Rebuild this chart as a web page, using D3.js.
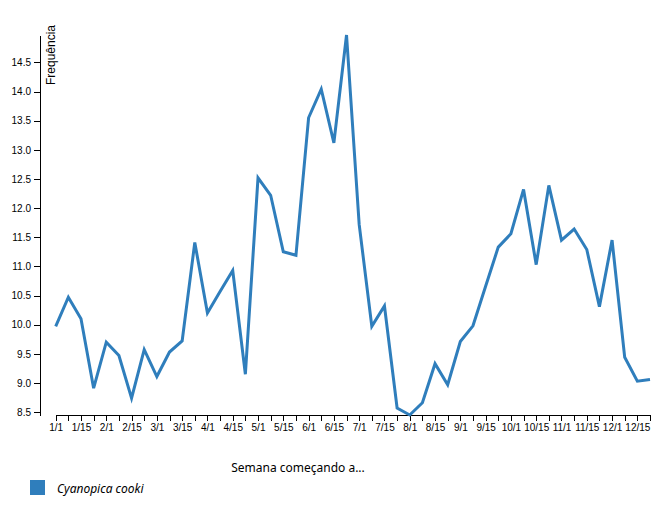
<!DOCTYPE html>
<html>
<head>
<meta charset="utf-8">
<script src="https://cdn.jsdelivr.net/npm/d3@7/dist/d3.min.js"></script>
<style>
  html, body { margin: 0; padding: 0; background: #fff; }
  svg { display: block; font-family: "Segoe UI", "Noto Sans", "Open Sans", sans-serif; }
  .axis text { font-size: 10px; fill: #000; }
  .axis path, .axis line { stroke: #000; shape-rendering: crispEdges; }
</style>
</head>
<body>
<svg id="chart" width="666" height="518"></svg>
<script>
// Weekly categories (4 per month)
const weeks = [
  "1/1","1/8","1/15","1/22","2/1","2/8","2/15","2/22","3/1","3/8","3/15","3/22",
  "4/1","4/8","4/15","4/22","5/1","5/8","5/15","5/22","6/1","6/8","6/15","6/22",
  "7/1","7/8","7/15","7/22","8/1","8/8","8/15","8/22","9/1","9/8","9/15","9/22",
  "10/1","10/8","10/15","10/22","11/1","11/8","11/15","11/22","12/1","12/8","12/15","12/22"
];
// Tick labels shown on the x axis
const tickLabels = [
  "1/1","1/15","2/1","2/15","3/1","3/15","4/1","4/15","5/1","5/15","6/1","6/15",
  "7/1","7/15","8/1","8/15","9/1","9/15","10/1","10/15","11/1","11/15","12/1","12/15"
];
// Series: Cyanopica cooki
const seriesName = "Cyanopica cooki";
const values = [
  9.97, 10.47, 10.10, 8.91, 9.70, 9.47, 8.74, 9.57, 9.11, 9.53, 9.72, 11.41,
  10.20, 10.57, 10.93, 9.15, 12.52, 12.22, 11.25, 11.19, 13.55, 14.04, 13.12, 14.97,
  11.72, 9.97, 10.32, 8.57, 8.45, 8.66, 9.33, 8.97, 9.71, 9.98, 10.66, 11.33,
  11.56, 12.32, 11.03, 12.39, 11.45, 11.64, 11.29, 10.31, 11.45, 9.44, 9.03, 9.06
];
const yLabel = "Frequência";
const xLabel = "Semana começando a...";

const svg = d3.select("#chart");
const color = "#2f7ebc";

const x = d3.scalePoint().domain(weeks).range([55.7, 650]);
const y = d3.scaleLinear().domain(d3.extent(values)).range([415, 35]);

// X axis
const xAxis = d3.axisBottom(x)
  .tickFormat(d => tickLabels.includes(d) ? d : "");
svg.append("g").attr("class", "axis x")
  .attr("transform", "translate(0,415)")
  .call(xAxis);

// Y axis
const yAxis = d3.axisLeft(y).ticks(10).tickFormat(d3.format(".1f")).tickSizeOuter(0);
const gy = svg.append("g").attr("class", "axis y")
  .attr("transform", "translate(40,0)")
  .call(yAxis);

gy.append("text")
  .attr("transform", "rotate(-90)")
  .attr("x", -25)
  .attr("y", 6)
  .attr("dy", ".71em")
  .style("text-anchor", "end")
  .style("font-size", "12px")
  .attr("fill", "#000")
  .text(yLabel);

// Line
const line = d3.line()
  .x((d, i) => x(weeks[i]))
  .y(d => y(d));
svg.append("path")
  .datum(values)
  .attr("fill", "none")
  .attr("stroke", color)
  .attr("stroke-width", 3)
  .attr("stroke-linejoin", "miter")
  .attr("d", line);

// X label
svg.append("text")
  .attr("x", 298)
  .attr("y", 472)
  .attr("text-anchor", "middle")
  .style("font-size", "12px")
  .attr("fill", "#000")
  .text(xLabel);

// Legend
const legend = svg.append("g").attr("transform", "translate(30,480)");
legend.append("rect")
  .attr("width", 15).attr("height", 15)
  .attr("fill", color);
legend.append("text")
  .attr("x", 27).attr("y", 13)
  .style("font-size", "12px")
  .style("font-style", "italic")
  .attr("fill", "#000")
  .text(seriesName);
</script>
</body>
</html>
